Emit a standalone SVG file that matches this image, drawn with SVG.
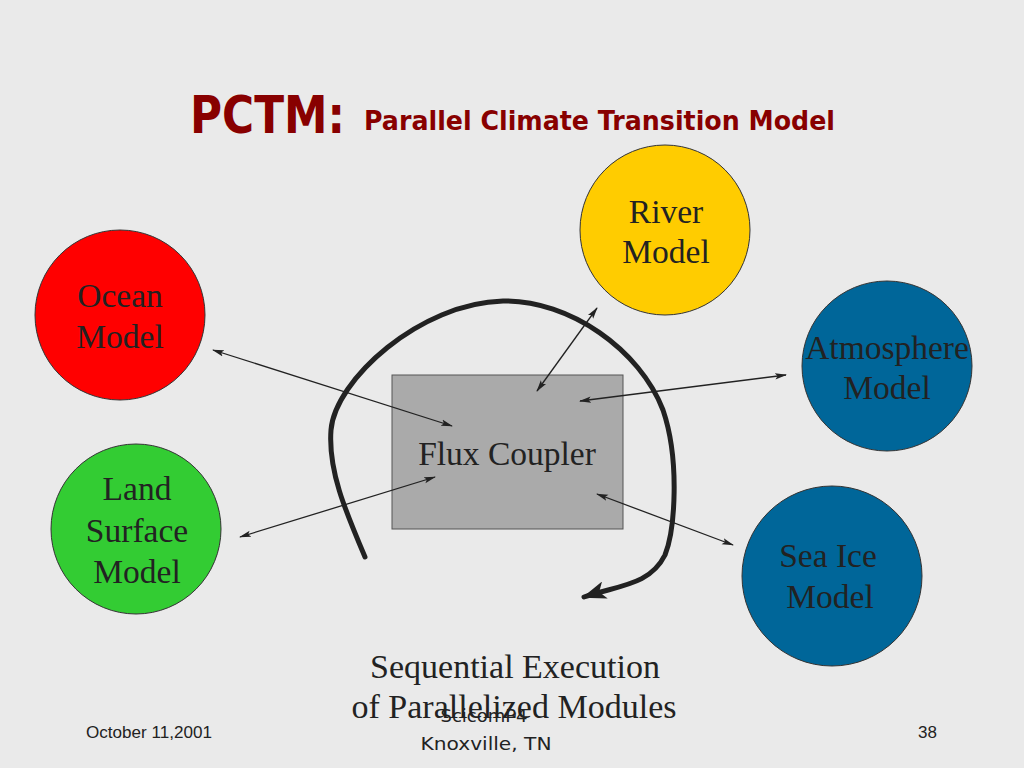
<svg xmlns="http://www.w3.org/2000/svg" width="1024" height="768" viewBox="0 0 1024 768">
<style>
.node{stroke:#333;stroke-width:1}
.lbl{font-family:"Liberation Serif","Times New Roman",serif;font-size:33.5px;fill:#222;text-anchor:middle}
.con{stroke:#222;stroke-width:1.3;fill:none;marker-start:url(#ah);marker-end:url(#ah)}
</style>
<defs>
<marker id="ah" viewBox="0 0 12 8" refX="11" refY="4" markerWidth="12" markerHeight="8" markerUnits="userSpaceOnUse" orient="auto-start-reverse">
<path d="M0,0.8 L12,4 L0,7.2 L2.5,4 Z" fill="#222"/>
</marker>
<marker id="big" viewBox="0 0 24 18" refX="22" refY="9" markerWidth="24" markerHeight="18" markerUnits="userSpaceOnUse" orient="auto">
<path d="M0,0 L24,9 L0,18 L6,9 Z" fill="#222"/>
</marker>
</defs>
<rect x="0" y="0" width="1024" height="768" fill="#eaeaea"/>
<g id="title">
<text x="190" y="133" font-family="'DejaVu Sans',Verdana,sans-serif" font-weight="bold" font-size="52" fill="#880000" textLength="155" lengthAdjust="spacingAndGlyphs">PCTM:</text>
<text x="364" y="130" font-family="'DejaVu Sans',Verdana,sans-serif" font-weight="bold" font-size="26" fill="#880000" textLength="471" lengthAdjust="spacingAndGlyphs">Parallel Climate Transition Model</text>
</g>
<g id="flux-coupler">
<rect x="392" y="375" width="231" height="154" fill="#aaaaaa" stroke="#555" stroke-width="1"/>
<text class="lbl" x="507" y="465" font-size="34">Flux Coupler</text>
</g>
<g id="ocean">
<circle class="node" cx="120" cy="315" r="85" fill="#ff0000"/>
<text class="lbl" x="120" y="307">Ocean</text>
<text class="lbl" x="120" y="348">Model</text>
</g>
<g id="land">
<circle class="node" cx="136" cy="529" r="85" fill="#33cc33"/>
<text class="lbl" x="137" y="500">Land</text>
<text class="lbl" x="137" y="542">Surface</text>
<text class="lbl" x="137" y="583">Model</text>
</g>
<g id="river">
<circle class="node" cx="665" cy="230" r="85" fill="#ffcc00"/>
<text class="lbl" x="666" y="223">River</text>
<text class="lbl" x="666" y="263">Model</text>
</g>
<g id="atmosphere">
<circle class="node" cx="887" cy="366" r="85" fill="#006699"/>
<text class="lbl" x="887" y="359">Atmosphere</text>
<text class="lbl" x="887" y="399">Model</text>
</g>
<g id="sea-ice">
<circle class="node" cx="832" cy="576" r="90" fill="#006699"/>
<text class="lbl" x="828" y="567">Sea Ice</text>
<text class="lbl" x="830" y="608">Model</text>
</g>
<g id="connectors">
<line class="con" x1="213" y1="350" x2="452" y2="426"/>
<line class="con" x1="240" y1="537" x2="435" y2="477"/>
<line class="con" x1="537" y1="391" x2="597" y2="308"/>
<line class="con" x1="580" y1="401" x2="786" y2="375"/>
<line class="con" x1="597" y1="494" x2="733" y2="545"/>
<path d="M365,557 C345,510 328,470 331,430 C335,380 420,303 503,301 C570,300 640,350 663,410 C680,460 675,530 665,555 C650,585 620,585 584,597" fill="none" stroke="#222" stroke-width="5" stroke-linecap="round" marker-end="url(#big)"/>
</g>
<g id="caption">
<text class="lbl" x="515" y="678" textLength="290" lengthAdjust="spacingAndGlyphs">Sequential Execution</text>
<text class="lbl" x="514" y="718" textLength="325" lengthAdjust="spacingAndGlyphs">of Parallelized Modules</text>
</g>
<g id="footer">
<text x="86" y="738" font-family="'Liberation Sans',Arial,sans-serif" font-size="17" fill="#222" textLength="126" lengthAdjust="spacingAndGlyphs">October 11,2001</text>
<text x="937" y="738" font-family="'Liberation Sans',Arial,sans-serif" font-size="17" fill="#222" text-anchor="end">38</text>
<text x="484" y="722" font-family="'DejaVu Sans',Verdana,sans-serif" font-size="18" fill="#222" text-anchor="middle">ScicomP4</text>
<text x="486" y="750" font-family="'DejaVu Sans',Verdana,sans-serif" font-size="18" fill="#222" text-anchor="middle" textLength="131" lengthAdjust="spacingAndGlyphs">Knoxville, TN</text>
</g>
</svg>
